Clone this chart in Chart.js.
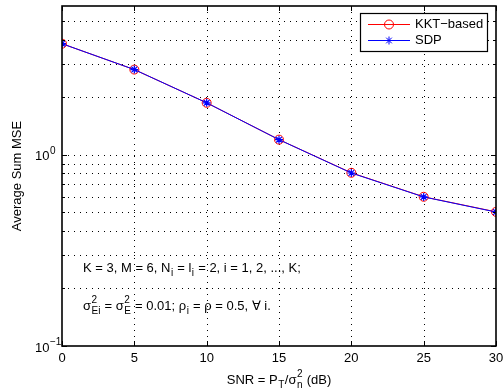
<!DOCTYPE html>
<html>
<head>
<meta charset="UTF-8">
<title>Average Sum MSE vs SNR</title>
<style>
  html, body { margin: 0; padding: 0; background: #fff; }
  #wrap { width: 503px; height: 390px; position: relative; }
</style>
<script src="https://cdn.jsdelivr.net/npm/chart.js"></script>
</head>
<body>
<div id="wrap"><canvas id="chart"></canvas></div>
<script>
// data
const snr = [0, 5, 10, 15, 20, 25, 30];
const kktBased = [3.81, 2.79, 1.87, 1.20, 0.805, 0.603, 0.503];
const sdp = [3.81, 2.79, 1.87, 1.20, 0.803, 0.602, 0.502];
const xTicks = [0, 5, 10, 15, 20, 25, 30];
const yMajor = [0.1, 1];
const yMinor = [0.2, 0.3, 0.4, 0.5, 0.6, 0.7, 0.8, 0.9, 2, 3, 4, 5];

const FONT = '"Liberation Sans", Arial, Helvetica, sans-serif';

// draw a run of text pieces: {t}, {t, sub}, {t, sup}, or {sup, sub} stacked
function richText(ctx, x, y, parts, size) {
  const small = Math.round(size * 0.75);
  ctx.textBaseline = 'middle';
  ctx.textAlign = 'left';
  for (const p of parts) {
    if (p.t) {
      ctx.font = size + 'px ' + FONT;
      ctx.fillText(p.t, x, y);
      x += ctx.measureText(p.t).width;
    }
    let w = 0;
    ctx.font = small + 'px ' + FONT;
    if (p.sup) {
      ctx.fillText(p.sup, x + 0.5, y - size * 0.42);
      w = Math.max(w, ctx.measureText(p.sup).width);
    }
    if (p.sub) {
      ctx.fillText(p.sub, x + 0.5, y + size * 0.42);
      w = Math.max(w, ctx.measureText(p.sub).width);
    }
    x += w ? w + 1 : 0;
  }
  return x;
}

function richWidth(ctx, parts, size) {
  const small = Math.round(size * 0.75);
  let x = 0;
  for (const p of parts) {
    if (p.t) { ctx.font = size + 'px ' + FONT; x += ctx.measureText(p.t).width; }
    let w = 0;
    ctx.font = small + 'px ' + FONT;
    if (p.sup) w = Math.max(w, ctx.measureText(p.sup).width);
    if (p.sub) w = Math.max(w, ctx.measureText(p.sub).width);
    x += w ? w + 1 : 0;
  }
  return x;
}

function drawStar(ctx, x, y, r) {
  ctx.beginPath();
  ctx.moveTo(x - r, y); ctx.lineTo(x + r, y);
  ctx.moveTo(x, y - r); ctx.lineTo(x, y + r);
  const d = r * 0.707;
  ctx.moveTo(x - d, y - d); ctx.lineTo(x + d, y + d);
  ctx.moveTo(x - d, y + d); ctx.lineTo(x + d, y - d);
  ctx.stroke();
}

const matlabFrame = {
  id: 'matlabFrame',
  beforeDatasetsDraw(chart) {
    const ctx = chart.ctx;
    const a = chart.chartArea;
    const xs = chart.scales.x, ys = chart.scales.y;
    ctx.save();
    ctx.strokeStyle = '#000';
    ctx.lineWidth = 1;
    ctx.setLineDash([1, 5]);
    ctx.beginPath();
    for (const v of xTicks.slice(1, -1)) {
      const px = Math.round(xs.getPixelForValue(v)) + 0.5;
      ctx.moveTo(px, a.top); ctx.lineTo(px, a.bottom);
    }
    for (const v of yMajor.concat(yMinor)) {
      if (v <= 0.1) continue;
      const py = Math.round(ys.getPixelForValue(v)) + 0.5;
      ctx.moveTo(a.left, py); ctx.lineTo(a.right, py);
    }
    ctx.stroke();
    ctx.setLineDash([]);

    // annotation text inside the axes
    ctx.fillStyle = '#000';
    richText(ctx, 83, 268, [
      { t: 'K = 3, M = 6, N' }, { sub: 'i' }, { t: ' = l' }, { sub: 'i' },
      { t: ' = 2, i = 1, 2, ..., K;' }
    ], 13);
    richText(ctx, 83, 306, [
      { t: '\u03C3' }, { sup: '2', sub: 'Ei' }, { t: ' = \u03C3' }, { sup: '2', sub: 'E' },
      { t: ' = 0.01; \u03C1' }, { sub: 'i' }, { t: ' = \u03C1 = 0.5, \u2200 i.' }
    ], 13);
    ctx.restore();
  },
  afterDatasetsDraw(chart) {
    const ctx = chart.ctx;
    const a = chart.chartArea;
    const xs = chart.scales.x, ys = chart.scales.y;
    ctx.save();
    ctx.strokeStyle = '#000';
    ctx.fillStyle = '#000';

    // tick marks, inward on all four sides
    ctx.lineWidth = 1;
    ctx.beginPath();
    for (const v of xTicks) {
      const px = Math.round(xs.getPixelForValue(v)) + 0.5;
      ctx.moveTo(px, a.bottom); ctx.lineTo(px, a.bottom - 5);
      ctx.moveTo(px, a.top); ctx.lineTo(px, a.top + 5);
    }
    for (const v of yMajor) {
      const py = Math.round(ys.getPixelForValue(v)) + 0.5;
      ctx.moveTo(a.left, py); ctx.lineTo(a.left + 5, py);
      ctx.moveTo(a.right, py); ctx.lineTo(a.right - 5, py);
    }
    for (const v of yMinor) {
      const py = Math.round(ys.getPixelForValue(v)) + 0.5;
      ctx.moveTo(a.left, py); ctx.lineTo(a.left + 3, py);
      ctx.moveTo(a.right, py); ctx.lineTo(a.right - 3, py);
    }
    ctx.stroke();

    // axes box
    ctx.lineWidth = 1.6;
    ctx.strokeRect(a.left, a.top, a.right - a.left, a.bottom - a.top);

    // x tick labels
    ctx.font = '13px ' + FONT;
    ctx.textAlign = 'center';
    ctx.textBaseline = 'middle';
    for (const v of xTicks) {
      ctx.fillText(String(v), xs.getPixelForValue(v), a.bottom + 12);
    }

    // y tick labels (powers of ten), left-aligned like the original
    for (const v of yMajor) {
      const exp = String(Math.round(Math.log10(v))).replace('-', '\u2212');
      const parts = [{ t: '10' }, { sup: exp }];
      richText(ctx, a.left - 27, ys.getPixelForValue(v) + 2, parts, 13);
    }

    // axis titles
    const xt = [{ t: 'SNR = P' }, { sub: 'T' }, { t: '/\u03C3' }, { sup: '2', sub: 'n' }, { t: ' (dB)' }];
    const xw = richWidth(ctx, xt, 13);
    richText(ctx, (a.left + a.right) / 2 - xw / 2, a.bottom + 34, xt, 13);

    ctx.save();
    ctx.translate(17, (a.top + a.bottom) / 2);
    ctx.rotate(-Math.PI / 2);
    ctx.font = '13px ' + FONT;
    ctx.textAlign = 'center';
    ctx.textBaseline = 'middle';
    ctx.fillText('Average Sum MSE', 0, 0);
    ctx.restore();

    // legend box
    const lx = 360, ly = 13, lw = 127, lh = 38;
    ctx.fillStyle = '#fff';
    ctx.fillRect(lx, ly, lw, lh);
    ctx.lineWidth = 1.2;
    ctx.strokeStyle = '#000';
    ctx.strokeRect(lx + 0.5, ly + 0.5, lw, lh);

    ctx.lineWidth = 1;
    ctx.strokeStyle = '#ff0000';
    ctx.beginPath();
    ctx.moveTo(368, 24.5); ctx.lineTo(410, 24.5);
    ctx.stroke();
    ctx.beginPath();
    ctx.arc(389, 24.5, 4.5, 0, Math.PI * 2);
    ctx.stroke();

    ctx.strokeStyle = '#0000ff';
    ctx.beginPath();
    ctx.moveTo(368, 40.5); ctx.lineTo(410, 40.5);
    ctx.stroke();
    drawStar(ctx, 389, 40.5, 4);

    ctx.fillStyle = '#000';
    ctx.font = '13px ' + FONT;
    ctx.textAlign = 'left';
    ctx.textBaseline = 'middle';
    ctx.fillText('KKT\u2212based', 415, 24);
    ctx.fillText('SDP', 415, 40);
    ctx.restore();
  }
};

new Chart(document.getElementById('chart'), {
  type: 'line',
  data: {
    labels: snr,
    datasets: [
      {
        label: 'KKT\u2212based',
        data: snr.map((x, i) => ({ x: x, y: kktBased[i] })),
        borderColor: '#ff0000',
        backgroundColor: 'rgba(0,0,0,0)',
        borderWidth: 1,
        pointStyle: 'circle',
        pointRadius: 4.5,
        pointBorderWidth: 1,
        pointBorderColor: '#ff0000',
        pointBackgroundColor: 'rgba(0,0,0,0)',
        tension: 0,
        order: 1
      },
      {
        label: 'SDP',
        data: snr.map((x, i) => ({ x: x, y: sdp[i] })),
        borderColor: '#0000ff',
        backgroundColor: 'rgba(0,0,0,0)',
        borderWidth: 1,
        pointStyle: 'star',
        pointRadius: 4,
        pointBorderWidth: 1.2,
        pointBorderColor: '#0000ff',
        pointBackgroundColor: '#0000ff',
        tension: 0,
        order: 0
      }
    ]
  },
  options: {
    responsive: true,
    maintainAspectRatio: false,
    animation: false,
    layout: { padding: { left: 54, right: 7, top: 6, bottom: 36 } },
    plugins: { legend: { display: false }, tooltip: { enabled: false } },
    scales: {
      x: {
        type: 'linear', min: 0, max: 30,
        ticks: { display: false },
        grid: { display: false },
        border: { display: false }
      },
      y: {
        type: 'logarithmic', min: 0.1, max: 6,
        ticks: { display: false },
        grid: { display: false },
        border: { display: false }
      }
    }
  },
  plugins: [matlabFrame]
});
</script>
</body>
</html>
